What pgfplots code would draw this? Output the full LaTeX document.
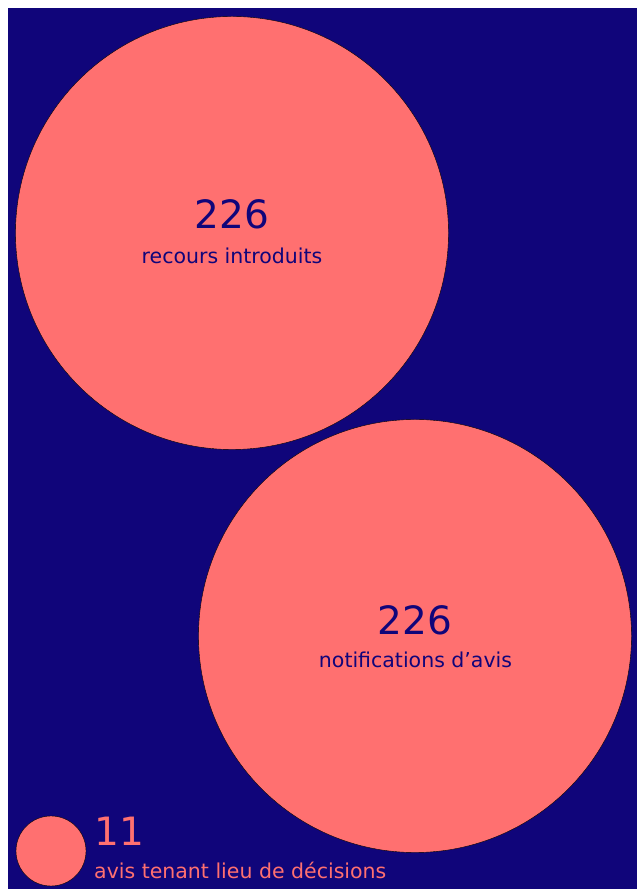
\documentclass[border=0pt]{standalone}
\usepackage{pgfplots}
\pgfplotsset{compat=1.18}
\usepackage{pgfplotstable}
\usepackage{fontspec}
\setmainfont{DejaVu Sans}
\definecolor{bg}{HTML}{10057A}
\definecolor{salmon}{HTML}{FF7070}
\pgfplotstableread{
x y r value
232 233 216.5 226
415 636 216.5 226
51 851 35 11
}\bubbles
\begin{document}
\begin{tikzpicture}
\begin{axis}[
  scale only axis, width=637pt, height=889pt,
  xmin=0, xmax=637, ymin=0, ymax=889, y dir=reverse,
  axis lines=none, ticks=none, clip=false, set layers,
]
\path (axis cs:0,0) -- (axis cs:637,889);
\addplot[fill=bg, draw=none] coordinates {(8,8) (637,8) (637,889) (8,889)} -- cycle;
\addplot[only marks, mark=*, mark options={fill=salmon, draw=none},
  visualization depends on={\thisrow{r}\as\rad},
  scatter, scatter/use mapped color={fill=salmon, draw=none},
  scatter/@pre marker code/.append style={/tikz/mark size=\rad}]
  table[x=x, y=y] {\bubbles};
\begin{pgfonlayer}{axis foreground}
\node[text=bg, font=\fontsize{39}{39}\selectfont, anchor=base, inner sep=0pt] at (axis cs:232,229) {226};
\node[text=bg, font=\fontsize{20.5}{20.5}\selectfont, anchor=base, inner sep=0pt] at (axis cs:232,264) {recours introduits};
\node[text=bg, font=\fontsize{39}{39}\selectfont, anchor=base, inner sep=0pt] at (axis cs:415,635) {226};
\node[text=bg, font=\fontsize{20.5}{20.5}\selectfont, anchor=base, inner sep=0pt] at (axis cs:415.5,668) {notifications d’avis};
\node[text=salmon, font=\fontsize{39}{39}\selectfont, anchor=base west, inner sep=0pt] at (axis cs:94,846) {11};
\node[text=salmon, font=\fontsize{20.5}{20.5}\selectfont, anchor=base west, inner sep=0pt] at (axis cs:94,879) {avis tenant lieu de décisions};
\end{pgfonlayer}
\end{axis}
\end{tikzpicture}
\end{document}
